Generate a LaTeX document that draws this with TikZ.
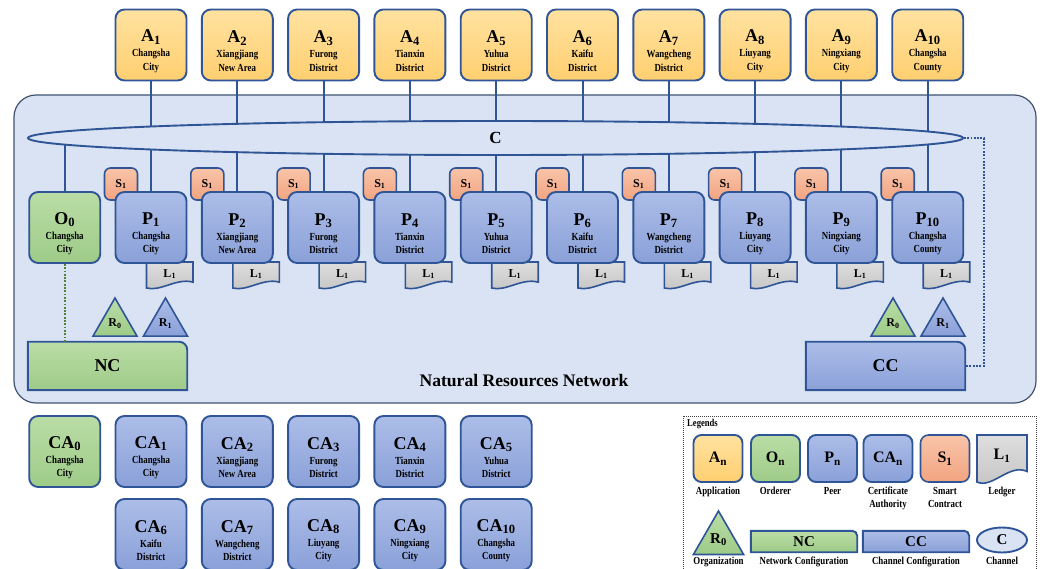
\documentclass[tikz,border=0pt]{standalone}
\usepackage{fontspec}
\setmainfont{Liberation Serif}
\newfontfamily\slimfont[FakeStretch=0.82]{Liberation Serif}
\usetikzlibrary{shapes.geometric}

\definecolor{edgeblue}{RGB}{47,85,151}
\definecolor{netfill}{RGB}{218,227,243}
\definecolor{netedge}{RGB}{64,84,112}
\definecolor{appTop}{RGB}{255,226,160}
\definecolor{appBot}{RGB}{255,207,112}
\definecolor{grnTop}{RGB}{186,221,166}
\definecolor{grnBot}{RGB}{158,203,136}
\definecolor{bluTop}{RGB}{172,189,232}
\definecolor{bluBot}{RGB}{138,160,216}
\definecolor{orgTop}{RGB}{249,196,170}
\definecolor{orgBot}{RGB}{242,164,128}
\definecolor{ledTop}{RGB}{222,222,222}
\definecolor{ledBot}{RGB}{196,196,196}
\definecolor{grnLine}{RGB}{84,130,53}

\pgfdeclarelayer{back}
\pgfdeclarelayer{mid}
\pgfsetlayers{back,mid,main}

\newcommand{\mainfnt}{\rmfamily\fontsize{18}{18}\selectfont}
\newcommand{\boxtext}[3]{{\mainfnt\rule{0pt}{24pt}#1}\\[1.5pt]#2\\#3}
% centre x, centre y, half width, half height
\newcommand{\ledgershape}[4]{%
  \path[ledgerline] (#1-#3,#2-#4) -- (#1+#3,#2-#4) -- (#1+#3,#2+0.55*#4)
    .. controls (#1+0.3*#3,#2+0.2*#4) and (#1-0.4*#3,#2+1.3*#4) .. (#1-#3,#2+#4) -- cycle;}
% node, fill style, corner radius
\newcommand{\cfgshape}[3]{%
  \path[cfgline,#2] (#1.south west) -- (#1.north west) [rounded corners=#3] -- (#1.north east) [sharp corners] -- (#1.south east) -- cycle;}

\def\districts{1/Changsha/City, 2/Xiangjiang/New Area, 3/Furong/District, 4/Tianxin/District,
  5/Yuhua/District, 6/Kaifu/District, 7/Wangcheng/District, 8/Liuyang/City,
  9/Ningxiang/City, 10/Changsha/County}

\tikzset{
  cityunit/.style={draw=edgeblue, line width=1.9pt, rounded corners=9pt, minimum width=71pt,
    minimum height=71pt, inner sep=0pt, align=center, font=\slimfont\bfseries\fontsize{10.8}{13.5}\selectfont},
  greenfill/.style={top color=grnTop, bottom color=grnBot},
  bluefill/.style={top color=bluTop, bottom color=bluBot},
  appnode/.style={cityunit, top color=appTop, bottom color=appBot},
  ordnode/.style={cityunit, greenfill},
  peernode/.style={cityunit, bluefill},
  contract/.style={draw=edgeblue, line width=1.6pt, rounded corners=6pt, minimum width=33pt,
    minimum height=32pt, inner sep=0pt, top color=orgTop, bottom color=orgBot,
    font=\bfseries\fontsize{12}{12}\selectfont},
  ledgerline/.style={draw=edgeblue, line width=1.6pt, top color=ledTop, bottom color=ledBot},
  ledgertext/.style={inner sep=0pt, font=\bfseries\fontsize{12}{12}\selectfont},
  orgtri/.style={regular polygon, regular polygon sides=3, minimum size=50.8pt, draw=edgeblue,
    line width=1.6pt, inner sep=0pt, font=\bfseries\fontsize{12}{12}\selectfont},
  cfgline/.style={draw=edgeblue, line width=1.9pt},
  cfgtext/.style={minimum width=159pt, minimum height=48pt, inner sep=0pt,
    font=\bfseries\fontsize{18}{18}\selectfont},
  chanell/.style={ellipse, draw=edgeblue, line width=1.9pt, fill=netfill, inner sep=0pt,
    font=\bfseries\fontsize{17}{17}\selectfont},
  conn/.style={draw=edgeblue, line width=2pt},
  lgunit/.style={minimum width=49pt, minimum height=47pt, rounded corners=8pt,
    font=\bfseries\fontsize{16}{16}\selectfont},
  caption/.style={inner sep=0pt, align=center, font=\slimfont\bfseries\fontsize{10.8}{13}\selectfont},
}

\begin{document}
\begin{tikzpicture}[x=1pt,y=-1pt]
\useasboundingbox (0,0) rectangle (1042,569);
\begin{pgfonlayer}{back}
\draw[draw=netedge, fill=netfill, line width=1.2pt, rounded corners=22pt] (14,95) rectangle (1036,403);
\end{pgfonlayer}

% applications, contracts, ledgers and peers
\foreach \i/\ta/\tb in \districts {
  \pgfmathsetmacro\cx{64.7+86.3*\i}
  \node[appnode] (a\i) at (\cx,45) {\boxtext{A\textsubscript{\i}}{\ta}{\tb}};
  \node[contract] (s\i) at (\cx-30,184) {S\textsubscript{1}};
  \ledgershape{\cx+18.75}{275}{23.25}{13}
  \node[ledgertext] (l\i) at (\cx+18.75,274) {L\textsubscript{1}};
  \node[peernode] (p\i) at (\cx,227.5) {\boxtext{P\textsubscript{\i}}{\ta}{\tb}};
  \begin{pgfonlayer}{mid}
    \draw[conn] (a\i) -- (p\i);
  \end{pgfonlayer}
}
\node[ordnode] (o0) at (64.7,227.5) {\boxtext{O\textsubscript{0}}{Changsha}{City}};
\node[chanell, minimum width=935pt, minimum height=34pt] (chan) at (495.5,138) {C};
\begin{pgfonlayer}{mid}
  \draw[conn] (o0) -- (o0 |- chan);
\end{pgfonlayer}

% organizations and configurations
\node[orgtri, greenfill] (r0a) at (115,323.4) {R\textsubscript{0}};
\node[orgtri, bluefill] (r1a) at (165.5,323.4) {R\textsubscript{1}};
\node[orgtri, greenfill] (r0b) at (893,323.4) {R\textsubscript{0}};
\node[orgtri, bluefill] (r1b) at (943,323.4) {R\textsubscript{1}};
\node[cfgtext] (nc) at (107.5,366) {NC};
\node[cfgtext] (cc) at (885.5,366) {CC};
\begin{pgfonlayer}{mid}
  \cfgshape{nc}{greenfill}{8pt}
  \cfgshape{cc}{bluefill}{8pt}
\end{pgfonlayer}
\draw[grnLine, line width=1.8pt, dash pattern=on 1.8pt off 1.5pt] (o0) -- (o0 |- nc.north);
\draw[edgeblue, line width=1.8pt, dash pattern=on 1.8pt off 1.5pt] (chan.east) -- ++(20,0) |- (cc.east);
\node[anchor=base, font=\bfseries\fontsize{17.6}{17.6}\selectfont] (nettitle) at (524,387) {Natural Resources Network};

% certificate authorities
\node[ordnode] (ca0) at (64.7,451.5) {\boxtext{CA\textsubscript{0}}{Changsha}{City}};
\foreach \i/\ta/\tb in \districts {
  \pgfmathsetmacro\cx{64.7+86.3*(mod(\i-1,5)+1)}
  \pgfmathsetmacro\cy{\i<6 ? 451.5 : 534.5}
  \node[peernode] (ca\i) at (\cx,\cy) {\boxtext{CA\textsubscript{\i}}{\ta}{\tb}};
}

% legends
\draw[black!75, line width=0.8pt, dash pattern=on 1pt off 1pt] (683,416) rectangle (1036,585);
\node[anchor=base west, font=\slimfont\bfseries\fontsize{10.5}{10.5}\selectfont, inner sep=0pt] (lgtitle) at (687,426) {Legends};
\node[appnode, lgunit] (lgapp) at (718,458.5) {A\textsubscript{n}};
\node[ordnode, lgunit] (lgord) at (775.5,458.5) {O\textsubscript{n}};
\node[peernode, lgunit] (lgpeer) at (832.5,458.5) {P\textsubscript{n}};
\node[peernode, lgunit] (lgca) at (888,458.5) {CA\textsubscript{n}};
\node[contract, lgunit] (lgsc) at (945,458.5) {S\textsubscript{1}};
\ledgershape{1002}{458.5}{25}{23.5}
\node[ledgertext, font=\bfseries\fontsize{16}{16}\selectfont] (lgled) at (1002,456) {L\textsubscript{1}};
\node[caption, anchor=base] (cpapp) at (718,494) {Application};
\node[caption, anchor=base] (cpord) at (775.5,494) {Orderer};
\node[caption, anchor=base] (cppeer) at (832.5,494) {Peer};
\node[caption, anchor=base] (cpca) at (888,507) {Certificate\\Authority};
\node[caption, anchor=base] (cpsc) at (945,507) {Smart\\Contract};
\node[caption, anchor=base] (cpled) at (1002,494) {Ledger};

\node[orgtri, greenfill, minimum size=58pt, font=\bfseries\fontsize{15}{15}\selectfont] (lgorg) at (718.5,540) {R\textsubscript{0}};
\node[cfgtext, minimum width=106pt, minimum height=21pt, font=\bfseries\fontsize{15}{15}\selectfont] (lgnc) at (804,541.5) {NC};
\node[cfgtext, minimum width=106pt, minimum height=21pt, font=\bfseries\fontsize{15}{15}\selectfont] (lgcc) at (916,541.5) {CC};
\begin{pgfonlayer}{mid}
  \cfgshape{lgnc}{greenfill}{5pt}
  \cfgshape{lgcc}{bluefill}{5pt}
\end{pgfonlayer}
\node[chanell, minimum width=50pt, minimum height=25pt, font=\bfseries\fontsize{15}{15}\selectfont] (lgchan) at (1002,540) {C};
\node[caption, anchor=base] (cporg) at (718.5,564) {Organization};
\node[caption, anchor=base] (cpnc) at (804,564) {Network Configuration};
\node[caption, anchor=base] (cpcc) at (916,564) {Channel Configuration};
\node[caption, anchor=base] (cpchan) at (1002,564) {Channel};
\end{tikzpicture}
\end{document}
